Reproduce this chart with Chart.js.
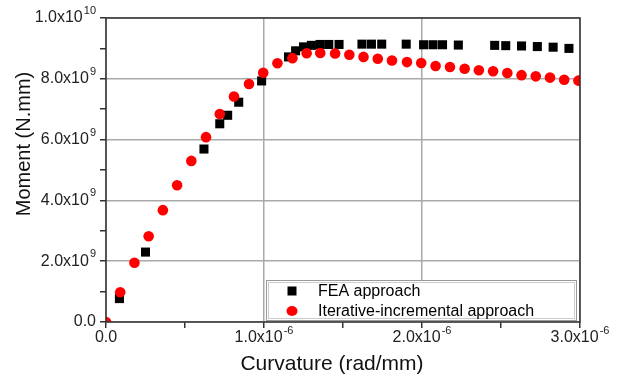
<!DOCTYPE html>
<html>
<head>
<meta charset="utf-8">
<script src="https://cdn.jsdelivr.net/npm/chart.js@4.4.1/dist/chart.umd.min.js"></script>
<style>
  html, body { margin: 0; padding: 0; background: #fff; }
  #wrap { width: 621px; height: 375px; }
</style>
</head>
<body>
<div id="wrap"><canvas id="momentChart"></canvas></div>
<script>
// curvature in units of 1e-6 rad/mm, moment in units of 1e9 N.mm
var feaCurvature = [0.085, 0.25, 0.62, 0.72, 0.77, 0.84, 0.985, 1.155, 1.2, 1.25, 1.3, 1.355, 1.41, 1.475,
  1.62, 1.68, 1.745, 1.9, 2.01, 2.07, 2.13, 2.23, 2.46, 2.53, 2.63, 2.73, 2.83, 2.93];
var feaMoment = [0.77, 2.3, 5.69, 6.52, 6.8, 7.23, 7.93, 8.72, 8.92, 9.05, 9.1, 9.13, 9.13, 9.13,
  9.14, 9.14, 9.14, 9.14, 9.12, 9.12, 9.12, 9.11, 9.1, 9.09, 9.08, 9.06, 9.04, 9.0];

var iterCurvature = [0, 0.09, 0.18, 0.27, 0.36, 0.45, 0.54, 0.633, 0.72, 0.81, 0.905, 0.995, 1.085, 1.18,
  1.27, 1.356, 1.45, 1.54, 1.63, 1.72, 1.81, 1.905, 1.995, 2.086, 2.177, 2.27, 2.36, 2.45,
  2.54, 2.63, 2.72, 2.81, 2.9, 2.99];
var iterMoment = [0, 0.98, 1.95, 2.82, 3.68, 4.5, 5.3, 6.08, 6.84, 7.42, 7.83, 8.2, 8.51, 8.68,
  8.84, 8.85, 8.83, 8.79, 8.72, 8.66, 8.6, 8.55, 8.52, 8.42, 8.39, 8.33, 8.28, 8.25,
  8.19, 8.12, 8.08, 8.04, 7.97, 7.94];

// tick labels: mantissa part and superscript exponent
var xTickBase = ['0.0', '1.0x10', '2.0x10', '3.0x10'];
var xTickExp = ['', '-6', '-6', '-6'];
var yTickBase = ['0.0', '2.0x10', '4.0x10', '6.0x10', '8.0x10', '1.0x10'];
var yTickExp = ['', '9', '9', '9', '9', '10'];
var seriesLabels = ['FEA approach', 'Iterative-incremental approach'];
var xTitle = 'Curvature (rad/mm)';
var yTitle = 'Moment (N.mm)';

function toPoints(xs, ys) {
  return xs.map(function (x, i) { return { x: x, y: ys[i] }; });
}

var fontFamily = '"Liberation Sans", Arial, sans-serif';

// draws "1.0x10" with a raised exponent
function drawSciLabel(ctx, base, exp, x, y, align) {
  ctx.font = '16px ' + fontFamily;
  var wb = ctx.measureText(base).width;
  ctx.font = '11px ' + fontFamily;
  var we = exp ? ctx.measureText(exp).width + 1 : 0;
  var total = wb + we;
  var sx = align === 'right' ? x - total : x - total / 2;
  ctx.font = '16px ' + fontFamily;
  ctx.fillText(base, sx, y);
  if (exp) {
    ctx.font = '11px ' + fontFamily;
    ctx.fillText(exp, sx + wb + 1, y - 7);
  }
}

// box around the plot area, tick labels, axis titles
var axesPlugin = {
  id: 'axesDecor',
  afterDraw: function (chart) {
    var a = chart.chartArea;
    var ctx = chart.ctx;
    var xs = chart.scales.x, ys = chart.scales.y;
    ctx.save();
    ctx.strokeStyle = '#333';
    ctx.lineWidth = 1.5;
    ctx.strokeRect(a.left, a.top, a.right - a.left, a.bottom - a.top);

    ctx.fillStyle = '#222';
    ctx.textAlign = 'left';
    ctx.textBaseline = 'middle';
    xTickBase.forEach(function (lbl, i) {
      drawSciLabel(ctx, lbl, xTickExp[i], xs.getPixelForValue(i), a.bottom + 16, 'center');
    });
    yTickBase.forEach(function (lbl, i) {
      drawSciLabel(ctx, lbl, yTickExp[i], a.left - 10, ys.getPixelForValue(i * 2), 'right');
    });

    ctx.fillStyle = '#111';
    ctx.textAlign = 'center';
    ctx.font = '21px ' + fontFamily;
    ctx.fillText(xTitle, a.left + 226, a.bottom + 42);
    ctx.translate(24, a.top + 126);
    ctx.rotate(-Math.PI / 2);
    ctx.font = '20px ' + fontFamily;
    ctx.fillText(yTitle, 0, 0);
    ctx.restore();
  }
};

// legend box in the lower right corner of the plot
var legendBoxPlugin = {
  id: 'legendBox',
  afterDraw: function (chart) {
    var a = chart.chartArea;
    var ctx = chart.ctx;
    var left = a.left + 160, top = a.top + 262;
    var w = 310, h = 40;
    ctx.save();
    ctx.fillStyle = '#fff';
    ctx.fillRect(left, top, w, h);
    ctx.strokeStyle = '#999';
    ctx.lineWidth = 1;
    ctx.strokeRect(left + 0.5, top + 0.5, w, h);
    ctx.strokeStyle = '#ccc';
    ctx.strokeRect(left + 2.5, top + 2.5, w - 4, h - 4);
    ctx.font = '16px ' + fontFamily;
    ctx.textBaseline = 'middle';
    chart.data.datasets.forEach(function (ds, i) {
      var y = top + 11 + i * 20;
      var mx = left + 26;
      ctx.fillStyle = ds.backgroundColor;
      if (ds.pointStyle === 'rect') {
        ctx.fillRect(mx - 4.5, y - 4.5, 9, 9);
      } else {
        ctx.beginPath();
        ctx.ellipse(mx, y, 5.5, 5, 0, 0, Math.PI * 2);
        ctx.fill();
      }
      ctx.fillStyle = '#000';
      ctx.fillText(ds.label, left + 52, y + 1);
    });
    ctx.restore();
  }
};

var ctx = document.getElementById('momentChart').getContext('2d');
var momentChart = new Chart(ctx, {
  type: 'scatter',
  data: {
    datasets: [{
      label: seriesLabels[0],
      data: toPoints(feaCurvature, feaMoment),
      pointStyle: 'rect',
      pointRadius: 6.4,
      pointHoverRadius: 6.4,
      backgroundColor: '#000',
      borderColor: '#000',
      borderWidth: 0,
      order: 1
    }, {
      label: seriesLabels[1],
      data: toPoints(iterCurvature, iterMoment),
      pointStyle: 'circle',
      pointRadius: 5.3,
      pointHoverRadius: 5.3,
      backgroundColor: '#f00',
      borderColor: '#f00',
      borderWidth: 0,
      order: 0
    }]
  },
  options: {
    responsive: true,
    maintainAspectRatio: false,
    animation: false,
    devicePixelRatio: 1,
    layout: { padding: { left: 0, top: 18, right: 41, bottom: 0 } },
    plugins: {
      legend: { display: false },
      tooltip: { enabled: false }
    },
    scales: {
      x: {
        type: 'linear',
        min: 0,
        max: 3,
        afterFit: function (scale) { scale.height = 53; },
        ticks: { stepSize: 0.5, autoSkip: false, display: false },
        grid: {
          color: function (c) {
            var v = c.tick ? c.tick.value : 0;
            return Number.isInteger(v) ? '#aaa' : 'rgba(0,0,0,0)';
          },
          lineWidth: 1.5,
          tickColor: '#333',
          tickLength: 6
        },
        border: { display: false }
      },
      y: {
        type: 'linear',
        min: 0,
        max: 10,
        afterFit: function (scale) { scale.width = 106; },
        ticks: { stepSize: 1, autoSkip: false, display: false },
        grid: {
          color: function (c) {
            var v = c.tick ? c.tick.value : 0;
            return v % 2 === 0 ? '#aaa' : 'rgba(0,0,0,0)';
          },
          lineWidth: 1.5,
          tickColor: '#333',
          tickLength: 6
        },
        border: { display: false }
      }
    }
  },
  plugins: [axesPlugin, legendBoxPlugin]
});
</script>
</body>
</html>
